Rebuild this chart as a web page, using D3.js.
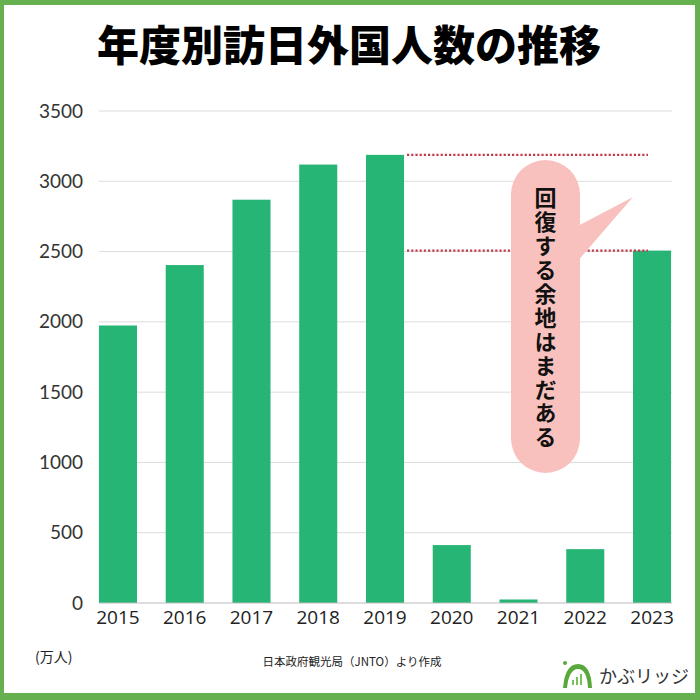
<!DOCTYPE html>
<html><head><meta charset="utf-8">
<script src="https://cdn.jsdelivr.net/npm/d3@7"></script>
<style>body{margin:0;background:#fff}svg{display:block}</style>
</head><body>
<script>
const years = ["2015","2016","2017","2018","2019","2020","2021","2022","2023"];
const visitors = [1974, 2404, 2869, 3119, 3188, 412, 25, 383, 2507];
const yTicks = [0, 500, 1000, 1500, 2000, 2500, 3000, 3500];
const title = "年度別訪日外国人数の推移";
const note = "回復する余地はまだある";

const W = 700, H = 700;
const svg = d3.select("body").append("svg").attr("width", W).attr("height", H);
svg.append("rect").attr("width", W).attr("height", H).attr("fill", "#fff");

const x = d3.scaleBand().domain(years).range([84.6, 685.4]).paddingInner(0.43).paddingOuter(0.215);
const y = d3.scaleLinear().domain([0, 3500]).range([603, 111]);

// grid
svg.append("g").selectAll("line").data(yTicks.filter(d => d > 0)).join("line")
  .attr("x1", 99).attr("x2", 672).attr("y1", d => y(d)).attr("y2", d => y(d))
  .attr("stroke", "#dcdcdc").attr("stroke-width", 1);

// bars
svg.append("g").selectAll("rect").data(years).join("rect")
  .attr("x", d => x(d)).attr("width", x.bandwidth())
  .attr("y", (d, i) => y(visitors[i])).attr("height", (d, i) => y(0) - y(visitors[i]))
  .attr("fill", "#26b574");

// baseline
svg.append("line").attr("x1", 99).attr("x2", 672).attr("y1", y(0)).attr("y2", y(0))
  .attr("stroke", "#bbb").attr("stroke-width", 1);

// y axis labels
const yAxis = d3.axisLeft(y).tickValues(yTicks).tickFormat(d3.format("d")).tickSize(0).tickPadding(0);
const gy = svg.append("g").attr("transform", "translate(83,0)").call(yAxis);
gy.select(".domain").remove();
gy.selectAll("text").attr("font-family", "Lato, 'Open Sans', sans-serif").attr("font-size", 19).attr("fill", "#333");

// x axis labels
const xAxis = d3.axisBottom(x).tickSize(0).tickPadding(0);
const gx = svg.append("g").attr("transform", "translate(0,611)").call(xAxis);
gx.select(".domain").remove();
gx.selectAll("text").attr("font-family", "'Open Sans', sans-serif").attr("font-size", 19).attr("fill", "#222").attr("dy", "0.7em")
  .attr("transform", "scale(1,1)");

// dotted reference lines
const i2019 = years.indexOf("2019"), i2023 = years.indexOf("2023");
[visitors[i2019], visitors[i2023]].forEach(v => {
  svg.append("line").attr("x1", x("2019") + x.bandwidth() + 3).attr("x2", 648)
    .attr("y1", y(v)).attr("y2", y(v))
    .attr("stroke", "#c23a4c").attr("stroke-width", 2.4).attr("stroke-dasharray", "2.2,2");
});

// speech bubble
const bub = {x: 511, y: 160, w: 69, h: 313};
svg.append("path").attr("d", `M${bub.x + bub.w - 6},${228} L633,197 L${bub.x + bub.w - 4},${263} Z`).attr("fill", "#f9c1bd");
svg.append("rect").attr("x", bub.x).attr("y", bub.y).attr("width", bub.w).attr("height", bub.h)
  .attr("rx", 34.5).attr("ry", 34.5).attr("fill", "#f9c1bd");
svg.append("text").attr("x", bub.x + bub.w / 2).attr("y", 187)
  .style("writing-mode", "vertical-rl").style("letter-spacing", "1.9px")
  .attr("text-anchor", "start")
  .attr("font-family", "'Noto Sans CJK JP', sans-serif").attr("font-weight", 700).attr("font-size", 22)
  .attr("fill", "#111").text(note);

// title
svg.append("text").attr("x", 349).attr("y", 61).attr("text-anchor", "middle")
  .attr("font-family", "'Noto Sans CJK JP', sans-serif").attr("font-weight", 800).attr("font-size", 42)
  .attr("fill", "#000").text(title);

// unit
svg.append("text").attr("x", 35).attr("y", 662)
  .attr("font-family", "'Noto Sans CJK JP', sans-serif").attr("font-size", 14).attr("fill", "#222").text("(万人)");
// source
svg.append("text").attr("x", 352).attr("y", 666).attr("text-anchor", "middle")
  .attr("font-family", "'Noto Sans CJK JP', sans-serif").attr("font-size", 11.5).attr("fill", "#222").text("日本政府観光局（JNTO）より作成");

// logo
const lg = svg.append("g");
lg.append("path").attr("d", "M563,688 Q565,664 578,664 Q591,664 592,688 L588,688 Q587,669 578,669 Q569,669 567,688 Z").attr("fill", "#5aa83c");
lg.append("circle").attr("cx", 565).attr("cy", 663).attr("r", 2).attr("fill", "#5aa83c");
lg.append("rect").attr("x", 572).attr("y", 680).attr("width", 2).attr("height", 5).attr("fill", "#7cc05a");
lg.append("rect").attr("x", 576).attr("y", 677).attr("width", 2).attr("height", 8).attr("fill", "#7cc05a");
lg.append("rect").attr("x", 580).attr("y", 674).attr("width", 2).attr("height", 11).attr("fill", "#7cc05a");
lg.append("text").attr("x", 599).attr("y", 683)
  .attr("font-family", "'Noto Sans CJK JP', sans-serif").attr("font-size", 18).attr("fill", "#333").text("かぶリッジ");

// frame
svg.append("path").attr("fill-rule", "evenodd").attr("fill", "#66b050")
  .attr("d", `M0,0 H${W} V${H} H0 Z M4,5 V693 H695 V5 Z`);
</script>
</body></html>
